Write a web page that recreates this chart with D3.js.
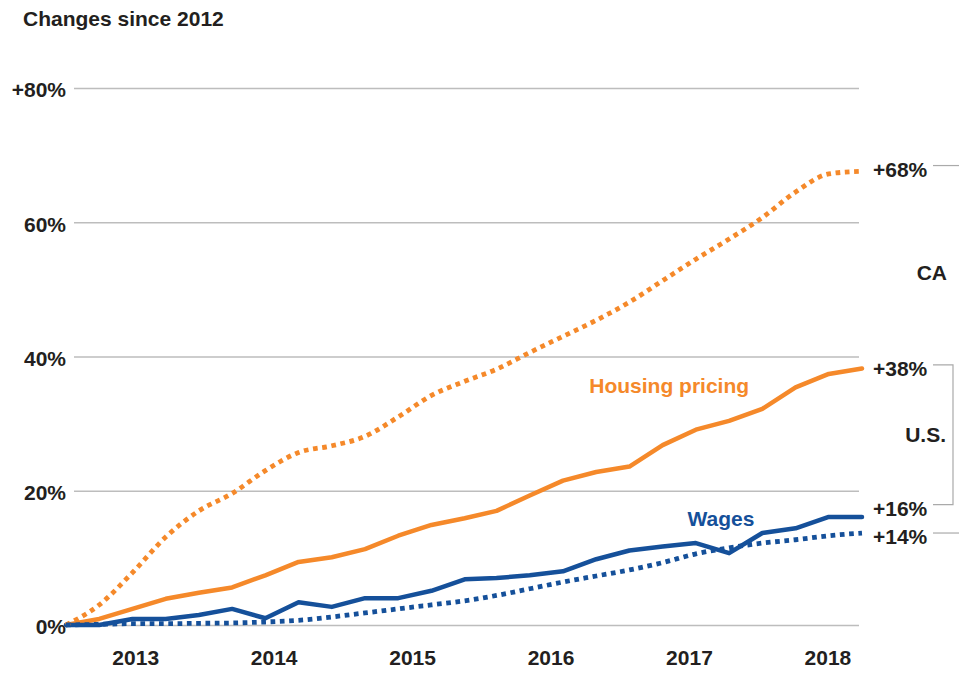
<!DOCTYPE html>
<html>
<head>
<meta charset="utf-8">
<script src="https://cdn.jsdelivr.net/npm/d3@7"></script>
<style>
    body { margin: 0; background: #fff; }
    svg text { font-family: "Liberation Sans", Arial, sans-serif; font-weight: bold; }
</style>
</head>
<body>
<div id="graph"></div>
<script>
"use strict";

// periods (decimal years), roughly quarterly from mid 2012 to Q2 2018
const periods = [2012.50, 2012.74, 2012.98, 2013.22, 2013.46, 2013.70, 2013.94, 2014.18,
    2014.42, 2014.66, 2014.90, 2015.14, 2015.38, 2015.61, 2015.85, 2016.09, 2016.33,
    2016.57, 2016.81, 2017.05, 2017.29, 2017.53, 2017.77, 2018.01, 2018.25];

// % change since 2012
const usHousing = [0, 0.9, 2.4, 3.9, 4.8, 5.6, 7.4, 9.4, 10.1, 11.3, 13.3, 14.9, 15.9,
    17.0, 19.3, 21.5, 22.8, 23.6, 26.8, 29.1, 30.4, 32.2, 35.4, 37.4, 38.2];
const usWages = [0, 0, 0.9, 0.9, 1.5, 2.4, 1.0, 3.4, 2.7, 4.0, 4.0, 5.1, 6.8,
    7.0, 7.4, 8.0, 9.8, 11.1, 11.7, 12.2, 10.7, 13.7, 14.4, 16.1, 16.1];
const caHousing = [0, 3.0, 7.8, 13.1, 17.0, 19.6, 23.0, 25.7, 26.7, 28.1, 31.0, 34.2, 36.3,
    38.1, 40.6, 43.0, 45.4, 48.1, 51.3, 54.5, 57.5, 60.7, 64.5, 67.2, 67.6];
const caWages = [0, 0.1, 0.2, 0.2, 0.25, 0.3, 0.45, 0.7, 1.2, 1.8, 2.4, 3.0, 3.6,
    4.4, 5.4, 6.4, 7.3, 8.2, 9.3, 10.6, 11.5, 12.2, 12.7, 13.3, 13.7];

const years = [2013, 2014, 2015, 2016, 2017, 2018];
const yTicks = [0, 20, 40, 60, 80];
const endLabels = [
    { text: "+68%", value: 68, nudge: 0 },
    { text: "+38%", value: 38, nudge: -2 },
    { text: "+16%", value: 16, nudge: -10 },
    { text: "+14%", value: 14, nudge: 5 }
];

(function() {
    const width = 959;
    const height = 673;
    const orange = "#f5892a";
    const blue = "#15509a";
    const ink = "#231f20";
    const grid = "#bdbdbd";
    const fs = "21px";

    const svg = d3.select("#graph")
        .append("svg")
            .attr("width", width)
            .attr("height", height);

    const xScale = d3.scaleLinear()
        .domain([2012.5, 2018.25])
        .range([66, 862]);
    const yScale = d3.scaleLinear()
        .domain([0, 80])
        .range([625, 88]);

    // title
    svg.append("text")
        .attr("x", 23)
        .attr("y", 26)
        .attr("fill", ink)
        .style("font-size", "21px")
        .text("Changes since 2012");

    // horizontal gridlines + y labels
    const yAxis = svg.append("g")
        .attr("transform", "translate(74,0)")
        .call(d3.axisRight(yScale)
            .tickValues(yTicks)
            .tickSize(785)
            .tickFormat((d) => d == 80 ? "+80%" : d + "%"));
    yAxis.select(".domain").remove();
    yAxis.selectAll(".tick line")
        .attr("stroke", grid)
        .attr("stroke-width", 1.5);
    yAxis.selectAll(".tick text")
        .attr("x", -8)
        .attr("dy", "0.42em")
        .attr("text-anchor", "end")
        .attr("fill", ink)
        .style("font-size", fs);

    // x labels
    const xAxis = svg.append("g")
        .attr("transform", "translate(0,642)")
        .call(d3.axisBottom(xScale)
            .tickValues(years)
            .tickSize(0)
            .tickFormat(d3.format("d")));
    xAxis.select(".domain").remove();
    xAxis.selectAll(".tick text")
        .attr("fill", ink)
        .attr("dy", "0.93em")
        .style("font-size", fs);

    const solid = d3.line()
        .x((d, i) => xScale(periods[i]))
        .y((d) => yScale(d));
    const smooth = d3.line()
        .x((d, i) => xScale(periods[i]))
        .y((d) => yScale(d))
        .curve(d3.curveMonotoneX);

    function drawLine(values, gen, color, dotted) {
        const path = svg.append("path")
            .datum(values)
            .attr("d", gen)
            .attr("fill", "none")
            .attr("stroke", color)
            .attr("stroke-width", dotted ? 4.8 : 4.5)
            .attr("stroke-linejoin", "round");
        if (dotted) {
            path.attr("stroke-dasharray", "4.7,4.6");
        } else {
            path.attr("stroke-linecap", "round");
        }
    }

    drawLine(usHousing, solid, orange, false);
    drawLine(usWages, solid, blue, false);
    drawLine(caHousing, smooth, orange, true);
    drawLine(caWages, smooth, blue, true);

    // series labels
    svg.append("text")
        .attr("x", xScale(2016.28))
        .attr("y", 393)
        .attr("fill", orange)
        .style("font-size", fs)
        .text("Housing pricing");
    svg.append("text")
        .attr("x", xScale(2016.99))
        .attr("y", 526)
        .attr("fill", blue)
        .style("font-size", fs)
        .text("Wages");

    // end value labels
    svg.selectAll(".end-label")
        .data(endLabels)
        .enter()
        .append("text")
            .attr("class", "end-label")
            .attr("x", 873)
            .attr("y", (d) => yScale(d.value) + d.nudge)
            .attr("dy", "0.38em")
            .attr("fill", ink)
            .style("font-size", fs)
            .text((d) => d.text);

    // connectors
    const yOf = (d) => yScale(d.value) + d.nudge - 3;
    const conn = svg.append("g")
        .attr("fill", "none")
        .attr("stroke", "#aaaaaa")
        .attr("stroke-width", 1.2);
    conn.append("line")
        .attr("x1", 933).attr("x2", 959)
        .attr("y1", yOf(endLabels[0])).attr("y2", yOf(endLabels[0]));
    conn.append("line")
        .attr("x1", 933).attr("x2", 959)
        .attr("y1", yOf(endLabels[3])).attr("y2", yOf(endLabels[3]));
    conn.append("path")
        .attr("d", "M933," + yOf(endLabels[1]) + "H953V" + yOf(endLabels[2]) + "H933");

    // group labels
    svg.append("text")
        .attr("x", 947)
        .attr("y", 280)
        .attr("text-anchor", "end")
        .attr("fill", ink)
        .style("font-size", fs)
        .text("CA");
    svg.append("text")
        .attr("x", 946)
        .attr("y", 442)
        .attr("text-anchor", "end")
        .attr("fill", ink)
        .style("font-size", fs)
        .text("U.S.");
})();
</script>
</body>
</html>
